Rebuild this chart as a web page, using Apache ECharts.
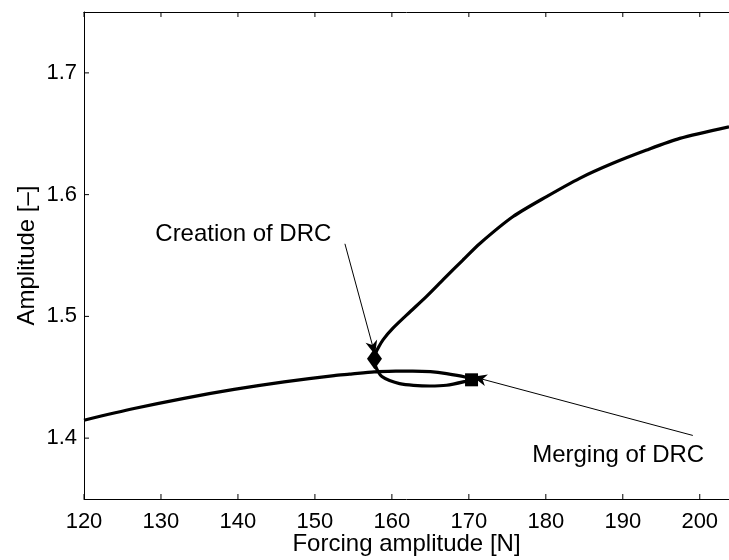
<!DOCTYPE html>
<html>
<head>
<meta charset="utf-8">
<script src="https://cdn.jsdelivr.net/npm/echarts@6/dist/echarts.min.js"></script>
<style>
  html, body { margin: 0; padding: 0; background: #fff; }
  #main { width: 729px; height: 560px; }
</style>
</head>
<body>
<div id="main"></div>
<script>
// continuation curve, in path order: lower branch -> loop -> upper branch
const forcing = [
  120.0, 126.5, 133.0, 139.5, 146.0, 152.5, 154.5, 157.7,
  160.5, 162.7, 165.0, 167.1, 169.5, 170.35,
  169.5, 167.1, 164.9, 162.8, 161.0, 159.7, 158.7, 158.2, 157.8, 157.7,
  157.9, 158.22, 158.87, 160.17, 162.34, 164.51, 166.66, 169.26, 171.4, 175.75, 180.1,
  184.4, 188.7, 193.1, 197.4, 203.8
];
const amplitude = [
  1.4147, 1.4243, 1.4327, 1.4400, 1.4462, 1.4514, 1.4525, 1.4544,
  1.4550, 1.4551, 1.4546, 1.4530, 1.4502, 1.4481,
  1.4465, 1.4434, 1.4428, 1.4434, 1.4448, 1.4473, 1.4506, 1.4547, 1.4604, 1.4645,
  1.4700, 1.4741, 1.4809, 1.4905, 1.5036, 1.5164, 1.5301, 1.5465, 1.5597, 1.5820, 1.5984,
  1.6134, 1.6257, 1.6366, 1.6462, 1.6557
];

// special points
const creationPt = [157.74, 1.4651];
const mergingPt = [170.35, 1.4479];

// annotations
const creationLabel = { text: 'Creation of DRC', at: [140.7, 1.5677], from: [153.9, 1.5596], to: [157.57, 1.4741] };
const mergingLabel = { text: 'Merging of DRC', at: [189.4, 1.3862], from: [199.1, 1.4022], to: [171.4, 1.4490] };

const xTicks = [120, 130, 140, 150, 160, 170, 180, 190, 200];
const yTicks = [1.4, 1.5, 1.6, 1.7];
const xRange = [120, 203.8];
const yRange = [1.35, 1.75];

const FONT = 'Liberation Sans, Arial, sans-serif';
const arrowHead = 'path://M6,0 L12,14 L6,10 L0,14 Z';
const TICK = 5;

let curve = forcing.map(function (f, i) { return [f, amplitude[i]]; });

// inward tick marks, placed through the axes' own scales
function tickItem(isX) {
  return function (params, api) {
    var v = api.value(0);
    var segs = [];
    if (isX) {
      var b = api.coord([v, yRange[0]]);
      var t = api.coord([v, yRange[1]]);
      segs.push([b[0], b[1], b[0], b[1] - TICK]);
      segs.push([t[0], t[1], t[0], t[1] + TICK]);
    } else {
      var l = api.coord([xRange[0], v]);
      segs.push([l[0], l[1], l[0] + TICK, l[1]]);
    }
    return {
      type: 'group',
      children: segs.map(function (s) {
        return {
          type: 'line',
          shape: { x1: s[0], y1: s[1], x2: s[2], y2: s[3] },
          style: { stroke: '#000', lineWidth: 1 }
        };
      })
    };
  };
}

var chart = echarts.init(document.getElementById('main'));
var option = {
  animation: false,
  backgroundColor: '#fff',
  grid: { left: 84, right: 0, top: 12, bottom: 61, containLabel: false, outerBoundsMode: 'none' },
  xAxis: [{
    type: 'value', min: xRange[0], max: xRange[1], interval: 10,
    name: 'Forcing amplitude [N]', nameLocation: 'middle', nameGap: 33, nameMoveOverlap: false,
    nameTextStyle: { fontFamily: FONT, fontSize: 24, color: '#000' },
    axisLine: { lineStyle: { color: '#000', width: 1 } },
    axisTick: { show: false },
    axisLabel: { fontFamily: FONT, fontSize: 22, color: '#000', margin: 12,
      formatter: function (v) { return v % 10 === 0 ? String(v) : ''; } },
    splitLine: { show: false }
  }, {
    type: 'value', position: 'top', min: xRange[0], max: xRange[1], interval: 10,
    axisLine: { lineStyle: { color: '#000', width: 1 } },
    axisTick: { show: false },
    axisLabel: { show: false },
    splitLine: { show: false }
  }],
  yAxis: {
    type: 'value', min: yRange[0], max: yRange[1],
    name: 'Amplitude [\u2013]', nameLocation: 'middle', nameGap: 45, nameMoveOverlap: false,
    nameTextStyle: { fontFamily: FONT, fontSize: 24, color: '#000' },
    axisLine: { show: true, lineStyle: { color: '#000', width: 1 } },
    axisTick: { show: false },
    axisLabel: { fontFamily: FONT, fontSize: 22, color: '#000', margin: 7, customValues: yTicks,
      formatter: function (v) { return v.toFixed(1); } },
    splitLine: { show: false }
  },
  series: [
    {
      type: 'custom', silent: true, renderItem: tickItem(true),
      data: xTicks.map(function (v) { return [v, yRange[0]]; }), z: 5
    },
    {
      type: 'custom', silent: true, renderItem: tickItem(false),
      data: yTicks.map(function (v) { return [v, yRange[0]]; }),
      encode: { x: 1, y: 0 }, z: 5
    },
    {
      type: 'line', data: curve, showSymbol: false, silent: true, smooth: 0.25,
      lineStyle: { color: '#000', width: 3.2 },
      markLine: {
        silent: true,
        symbol: ['none', arrowHead],
        symbolSize: [12, 14],
        lineStyle: { color: '#000', width: 1, type: 'solid' },
        label: { show: false },
        data: [
          [{ coord: creationLabel.from }, { coord: creationLabel.to }],
          [{ coord: mergingLabel.from }, { coord: mergingLabel.to }]
        ]
      }
    },
    {
      type: 'scatter', data: [creationPt], symbol: 'diamond', symbolSize: [15, 21],
      itemStyle: { color: '#000', opacity: 1 }, silent: true, z: 3
    },
    {
      type: 'scatter', data: [mergingPt], symbol: 'rect', symbolSize: 13,
      itemStyle: { color: '#000', opacity: 1 }, silent: true, z: 3
    },
    {
      type: 'scatter', symbolSize: 0, silent: true,
      itemStyle: { opacity: 1 },
      data: [
        { value: creationLabel.at, name: creationLabel.text },
        { value: mergingLabel.at, name: mergingLabel.text }
      ],
      label: {
        show: true, position: 'inside', formatter: '{b}',
        fontFamily: FONT, fontSize: 24, color: '#000'
      }
    }
  ]
};
chart.setOption(option);
</script>
</body>
</html>
